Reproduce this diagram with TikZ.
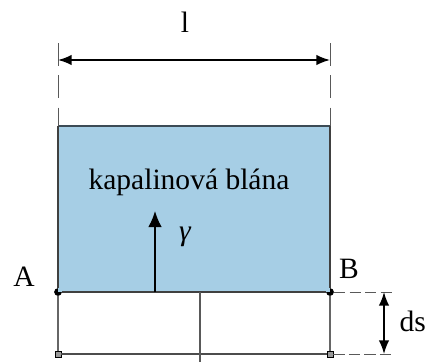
\documentclass[tikz,border=0pt]{standalone}
\usepackage{fontspec}
\setmainfont{Liberation Serif}
\usepackage{tikz}
\usetikzlibrary{arrows.meta,positioning}
\definecolor{filmblue}{RGB}{166,206,229}
\definecolor{edgeslate}{RGB}{60,75,85}

\begin{document}
\begin{tikzpicture}[
    x=0.025cm, y=-0.025cm,
    film/.style={fill=filmblue, draw=none},
    edge/.style={draw=black!75, line width=0.8pt},
    dimline/.style={draw=black!65, line width=0.7pt, dash pattern=on 16pt off 7pt},
    dimarrow/.style={{Latex[length=3.4mm,width=2.6mm]}-{Latex[length=3.4mm,width=2.6mm]}, line width=1.1pt},
    lbl/.style={font=\fontsize{21}{25}\selectfont, inner sep=1pt},
    dot/.style={circle, fill=black, inner sep=0pt, minimum size=5.5pt},
    sq/.style={rectangle, draw=black, fill=black!40, inner sep=0pt, minimum size=4.5pt}
]
\useasboundingbox (0,0) rectangle (425,362);

% ================= CORNERS =================
\coordinate (TL) at (58,126);
\coordinate (TR) at (330,126);
\node[dot] (A) at (58,292) {};
\node[dot] (B) at (330,292) {};
\node[sq] (C) at (58,354) {};
\node[sq] (D) at (330,354) {};

% liquid film
\fill[film] (TL) rectangle (B);
\draw[line width=1.8pt, draw=edgeslate] (TL) -- (TR);
\draw[edge] (TL) -- (A);
\draw[edge] (TR) -- (B);
\draw[edge] (A) -- (B);

% moved part
\draw[edge, draw=black!60] (A) -- (C);
\draw[edge, draw=black!60] (B) -- (D);
\draw[line width=1.3pt, draw=black!70] (C) -- (D);
\coordinate (Mt) at (200,292);
\coordinate (Mb) at (200,362);
\draw[edge, draw=black!65] (Mt) -- (Mb);

% ================= DIMENSIONS =================
\coordinate (L1) at (58,43);
\coordinate (R1) at (330,43);
\draw[dimline] (L1) -- (TL);
\draw[dimline] (R1) -- (TR);
\coordinate (La) at (58,60);
\coordinate (Ra) at (330,60);
\draw[dimarrow] (La) -- (Ra);
\node[lbl] (len) at (185,22) {l};

\coordinate (Be) at (393,292);
\coordinate (De) at (393,354);
\draw[dimline, dash pattern=on 8pt off 3pt] (B) -- (Be);
\draw[dimline, dash pattern=on 8pt off 3pt] (D) -- (De);
\coordinate (Dst) at (384,292);
\coordinate (Dsb) at (384,354);
\draw[dimarrow] (Dst) -- (Dsb);
\node[lbl, anchor=west] (ds) at (398,321) {ds};

% ================= LABELS =================
\node[lbl] (Alab) at (24,277) {A};
\node[lbl] (Blab) at (349,269) {B};
\node[lbl] (film) at (189,182) {kapalinová blána};

% surface tension
\coordinate (Gb) at (155,292);
\coordinate (Gt) at (155,211);
\draw[-{Latex[length=4mm,width=3.4mm]}, line width=1.2pt] (Gb) -- (Gt);
\node[lbl] (gamma) at (185,237) {\itshape γ};

\end{tikzpicture}
\end{document}
